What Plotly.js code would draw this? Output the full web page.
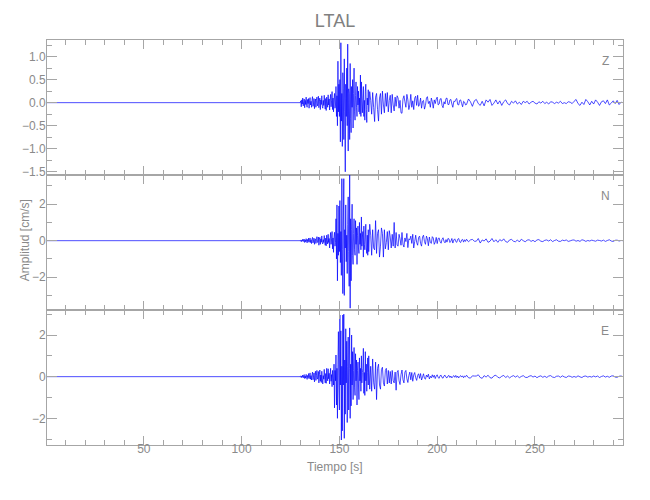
<!DOCTYPE html>
<html>
<head>
<meta charset="utf-8">
<script src="https://cdn.plot.ly/plotly-3.0.1.min.js"></script>
<style>html,body{margin:0;padding:0;background:#fff}#chart{width:650px;height:500px}</style>
</head>
<body>
<div id="chart"></div>
<script>
// ---- Data (cm/s) ----
const stationName = "LTAL";
const componentNames = ["Z", "N", "E"];
const preEventTime = [0.5];          // quiet record start
const preEventValue = [0];
const strongStart = 130, strongStep = 0.25;   // strong-motion segment sampling (s)
const midStart = 165, midStep = 0.5;          // early coda sampling (s)
const tailStart = 215, tailStep = 1;          // late coda sampling (s)
const xTickLabels = ["50", "100", "150", "200", "250"];

const zStrong = [
 0.00,0.04,-0.09,0.06, -0.03,0.10,-0.07,0.02, 0.08,-0.11,0.05,-0.04, 0.12,-0.06,-0.10,0.07,
 -0.02,0.09,-0.12,0.04, 0.11,-0.05,0.03,-0.10, 0.06,0.13,-0.08,-0.03, 0.09,-0.13,0.02,0.08,
 -0.10,0.05,0.12,-0.07, -0.02,0.14,-0.11,0.03, 0.10,-0.15,0.06,-0.04, 0.15,-0.08,-0.12,0.05,
 -0.06,0.16,-0.03,-0.14, 0.09,-0.17,0.12,0.02, -0.10,0.17,-0.05,0.08, -0.16,0.06,0.18,-0.09,
 0.04,0.24,-0.15,0.10, -0.20,0.08,0.20,-0.12, -0.05,0.35,-0.30,0.15, -0.50,0.90,-0.20,0.40,
 -0.30,0.50,-0.85,1.30, -0.40,0.20,-0.95,0.65, 0.30,-0.80,0.95,-0.20, -1.50,0.40,-0.30,0.75,
 -0.50,1.27,-1.05,0.30, 0.20,-0.80,0.85,-0.35, -0.65,0.35,-0.10,0.50, -0.55,0.20,0.75,-0.20,
 -0.38,0.15,0.45,-0.10, -0.30,0.35,-0.05,0.25, -0.20,0.10,-0.25,0.60, -0.30,0.45,0.05,-0.22,
 0.10,0.35,-0.30,0.05, -0.38,0.25,0.40,-0.15, -0.43,0.10,-0.05,0.28
];
const zMid = [
 -0.20,0.24, 0.05,-0.25, 0.22,-0.10, -0.41,0.12, 0.20,-0.15, -0.40,0.10, 0.20,-0.25, 0.25,-0.05,
 -0.22,0.20, -0.08,0.22, -0.20,0.05, 0.16,-0.22, 0.18,-0.05, -0.18,0.12, -0.08,0.15, 0.10,-0.12,
 0.05,-0.22, -0.23,0.08, 0.15,0.02, -0.10,0.18, 0.06,-0.15, -0.05,0.18, -0.10,0.04, -0.15,0.10,
 0.14,-0.06, 0.16,-0.08, -0.04,0.10, -0.12,0.03, 0.05,-0.14, -0.06,0.10, 0.13,-0.02, 0.03,-0.10,
 0.10,0.02, -0.12,0.06, -0.02,0.08, 0.12,-0.05, -0.03,0.08, 0.09,-0.06, -0.11,0.02, -0.03,0.09,
 0.10,-0.04, -0.04,0.06, 0.07,-0.03, -0.10,0.03, 0.02,0.07, 0.09,-0.04, -0.05,0.05, 0.06,-0.02,
 -0.09,0.03, 0.01,-0.05
];
const zTail = [
 -0.04,0.08,0.02,-0.08,0.04,
 0.07,-0.02,-0.06,0.03,-0.07,0.06,0.01,0.07,-0.06,-0.01,
 0.06,-0.03,0.04,-0.06,0.02,0.06,-0.02,-0.05,0.03,-0.01,
 0.04,-0.03,0.01,-0.04,0.03,0.00,0.03,-0.03,0.01,0.03,
 -0.01,-0.03,0.02,-0.01,0.03,-0.02,0.01,-0.03,0.02,0.01,
 -0.02,0.01,-0.01,0.03,-0.02,0.00,-0.02,0.02,0.01,-0.02,
 0.03,0.07,-0.02,-0.06,0.01,-0.04,0.07,0.02,-0.05,0.03,
 -0.03,0.06,0.01,-0.06,0.02,0.04,-0.02,0.06,-0.05,-0.01,
 0.04,-0.02,0.05,-0.04,0.01,0.00
];

const nStrong = [
 0.00,0.04,-0.06,0.03, -0.02,0.08,-0.05,0.06, 0.09,-0.10,0.04,-0.06, 0.11,-0.03,-0.12,0.07,
 -0.05,0.14,-0.09,0.02, 0.15,-0.10,0.05,-0.16, 0.08,0.18,-0.12,-0.02, 0.14,-0.20,0.06,0.10,
 -0.15,0.05,0.22,-0.10, -0.04,0.20,-0.25,0.08, 0.18,-0.20,0.10,-0.08, 0.26,-0.12,-0.18,0.06,
 -0.10,0.28,-0.05,-0.25, 0.14,-0.28,0.30,0.02, -0.18,0.35,-0.10,0.12, -0.40,0.10,0.45,-0.20,
 0.10,0.50,-0.45,0.15, -0.64,0.20,0.46,-0.30, -0.10,1.20,-1.00,1.96, -2.20,0.40,-0.80,1.90,
 -0.60,2.20,-1.20,0.50, -1.90,3.40,-0.50,-2.90, 0.80,3.40,-3.00,0.60, -0.40,1.96,-1.15,0.30,
 -1.80,0.90,2.40,-0.60, -2.50,3.70,-3.70,1.20, -2.20,0.60,2.00,-0.80, -1.30,0.40,1.20,-0.50,
 -0.80,1.10,-0.20,0.70, -1.30,0.30,0.80,-0.40, -0.70,1.00,-0.20,0.40, -0.50,1.30,-0.30,0.20,
 0.50,-0.90,0.80,-0.20, -0.50,0.20,0.90,-0.40, -0.70,0.30,-0.80,0.60
];
const nMid = [
 -0.60,0.90, 0.30,-0.80, 0.60,-0.40, -0.50,1.10, -0.70,0.40, 0.60,-0.90, -0.30,0.70, 0.40,-0.90,
 0.60,-0.45, -0.10,0.50, -0.50,0.55, 0.20,-0.40, 0.35,-0.30, 1.00,-0.40, 0.45,-0.25, -0.30,0.35,
 0.10,-0.25, 0.45,-0.20, -0.35,0.15, -0.05,0.40, -0.38,0.10, 0.05,0.25, -0.15,0.35, -0.40,-0.05,
 0.30,-0.10, -0.25,0.18, 0.25,-0.15, -0.30,0.20, 0.30,-0.05, -0.20,0.25, 0.10,-0.28, 0.20,-0.10,
 -0.15,0.22, 0.15,-0.20, -0.08,0.18, -0.16,0.12, 0.15,-0.06, -0.14,0.08, 0.16,-0.04, -0.12,0.06,
 -0.08,0.12, 0.10,-0.10, -0.03,0.12, -0.13,0.04, 0.10,-0.05, -0.09,0.08, 0.12,-0.06, -0.10,0.04,
 0.07,-0.08, 0.05,-0.04
];
const nTail = [
 0.08,-0.06,0.04,0.07,-0.03,
 -0.03,0.12,-0.13,0.04,-0.02,0.10,-0.09,-0.03,0.12,-0.06,
 0.05,-0.09,0.06,-0.02,0.10,-0.05,-0.09,0.04,0.07,-0.03,
 -0.06,0.04,-0.07,0.08,0.00,-0.06,0.03,0.05,-0.04,0.02,
 -0.06,0.04,0.06,-0.03,-0.05,0.02,0.04,-0.02,0.05,-0.05,
 0.01,0.05,-0.03,-0.04,0.03,0.00,0.04,-0.04,-0.01,0.03,
 0.04,-0.03,0.01,-0.04,0.05,0.02,-0.04,0.01,-0.02,0.03,
 0.00,-0.03,0.03,0.01,-0.02,0.03,-0.04,0.01,0.05,-0.02,
 -0.04,0.02,0.03,-0.02,0.01,0.00
];

const eStrong = [
 0.00,0.04,-0.05,0.03, -0.02,0.08,-0.06,0.05, 0.10,-0.09,0.03,-0.07, 0.11,-0.04,-0.13,0.06,
 -0.05,0.15,-0.10,0.03, 0.18,-0.12,0.05,-0.16, 0.10,0.22,-0.15,-0.03, 0.18,-0.25,0.06,0.26,
 -0.18,0.05,0.30,-0.12, -0.06,0.25,-0.30,0.10, 0.32,-0.22,0.08,-0.28, 0.26,-0.10,-0.35,0.05,
 -0.12,0.35,-0.06,-0.30, 0.15,-0.32,0.40,0.02, -0.20,0.38,-0.10,0.16, -0.35,0.10,0.40,-0.22,
 0.10,-0.48,0.30,-0.10, -0.40,0.60,-1.50,0.30, -0.20,1.04,-1.36,0.40, -2.00,0.60,2.16,-0.50,
 -1.60,2.96,-0.40,2.20, -3.04,0.50,-2.60,2.96, -0.40,3.00,-2.96,0.80, -1.80,2.30,-0.30,1.70,
 -2.20,0.50,1.90,-1.60, 0.40,2.34,-2.00,0.60, -1.40,2.00,-0.40,1.20, -1.10,0.30,1.40,-0.50,
 -0.90,1.10,-0.20,0.80, -1.36,0.30,0.70,-0.40, -1.10,0.90,-0.20,0.40, -0.70,1.00,-0.30,0.20,
 0.40,1.36,-0.80,0.20, -0.90,1.20,-0.20,0.60, -0.70,0.20,0.90,-0.40
];
const eMid = [
 1.00,-0.60, 0.50,-0.70, 0.85,-0.30, -0.60,0.70, -1.10,0.40, 0.60,-0.40, -0.60,0.35, 0.45,-0.30,
 -0.45,0.30, 0.40,-0.35, 0.30,-0.30, 0.25,-0.35, 0.30,-0.20, -0.30,0.22, -0.65,0.22, 0.30,-0.20,
 -0.38,0.10, 0.32,-0.15, -0.30,0.22, 0.30,-0.10, -0.28,0.05, 0.22,-0.15, 0.20,-0.22, 0.08,0.20,
 -0.05,-0.18, 0.06,0.14, -0.08,0.15, -0.16,-0.02, 0.14,-0.08, -0.12,0.08, -0.02,0.12, -0.11,0.02,
 -0.06,0.09, -0.03,0.07, -0.09,0.03, 0.09,-0.04, -0.08,0.05, 0.07,-0.05, -0.07,0.04, 0.07,-0.03,
 -0.06,0.03, 0.06,-0.04, 0.03,-0.06, 0.01,0.05, -0.03,0.06, -0.04,0.03, -0.06,0.01, 0.05,-0.02,
 0.04,-0.05, 0.03,-0.01
];
const eTail = [
 0.07,-0.05,-0.07,0.04,0.03,
 0.03,0.09,-0.04,-0.08,0.05,-0.02,0.07,-0.05,-0.07,0.04,
 0.07,-0.03,-0.06,0.02,0.06,-0.04,0.03,-0.06,0.01,0.05,
 -0.02,0.04,-0.05,0.01,0.05,-0.03,-0.04,0.02,0.05,-0.02,
 0.03,-0.05,0.01,0.04,-0.03,0.02,-0.04,0.03,0.05,-0.02,
 -0.04,0.02,0.03,-0.03,0.04,-0.01,-0.04,0.03,0.02,-0.03,
 0.01,-0.03,0.04,-0.01,-0.04,0.02,0.03,-0.02,0.01,-0.02,
 0.03,-0.01,0.03,-0.04,0.01,0.04,-0.02,0.02,-0.03,0.03,
 0.04,-0.02,-0.03,0.02,0.03,0.00
];

// ---- Build series ----
function buildTrace(strong, mid, tail) {
  const x = preEventTime.slice(), y = preEventValue.slice();
  strong.forEach((v, i) => { x.push(strongStart + i * strongStep); y.push(v); });
  mid.forEach((v, i) => { x.push(midStart + i * midStep); y.push(v); });
  tail.forEach((v, i) => { x.push(tailStart + i * tailStep); y.push(v); });
  return {x, y};
}
const series = [
  buildTrace(zStrong, zMid, zTail),
  buildTrace(nStrong, nMid, nTail),
  buildTrace(eStrong, eMid, eTail)
];

const FONT = "'Liberation Sans', Arial, sans-serif";
const GRAY = "#8a8a8a", AX = "#a6a6a6";

const traces = series.map((s, k) => ({
  type: "scatter", mode: "lines",
  x: s.x, y: s.y,
  xaxis: k === 0 ? "x" : "x" + (k + 1),
  yaxis: k === 0 ? "y" : "y" + (k + 1),
  line: {color: "#0000ff", width: 0.7, simplify: false},
  hoverinfo: "skip", showlegend: false
}));

function xAxis(k, showLabels) {
  return {
    domain: [0, 1], anchor: k === 0 ? "y" : "y" + (k + 1),
    range: [0.5, 295], tickmode: "array", tickvals: [50, 100, 150, 200, 250],
    ticktext: xTickLabels, showticklabels: showLabels,
    ticks: "inside", ticklen: 9, tickwidth: 1, tickcolor: AX,
    minor: {ticks: "inside", tickmode: "linear", tick0: 0, dtick: 10, ticklen: 5, tickcolor: AX, showgrid: false},
    showline: true, linecolor: AX, linewidth: 1, mirror: "ticks",
    showgrid: false, zeroline: false, ticklabelstandoff: -7,
    tickfont: {family: FONT, size: 12, color: GRAY}
  };
}
function yAxis(domain, range, dtick, minorDtick, fmt) {
  return {
    domain: domain, range: range, tickmode: "linear", tick0: 0, dtick: dtick,
    tickformat: fmt,
    ticks: "inside", ticklen: 10, tickwidth: 1, tickcolor: AX,
    minor: {ticks: "inside", tickmode: "linear", tick0: 0, dtick: minorDtick, ticklen: 5, tickcolor: AX, showgrid: false},
    showline: true, linecolor: AX, linewidth: 1, mirror: "ticks",
    showgrid: false, zeroline: false, ticklabelstandoff: -2,
    tickfont: {family: FONT, size: 12, color: GRAY}
  };
}

const layout = {
  width: 650, height: 500,
  margin: {l: 47, r: 27, t: 40, b: 55},
  paper_bgcolor: "#ffffff", plot_bgcolor: "#ffffff",
  title: {text: stationName, x: 0.5, xref: "paper", y: 0.958, yanchor: "middle",
          font: {family: FONT, size: 18, color: "#808080"}},
  xaxis: xAxis(0, false), xaxis2: xAxis(1, false), xaxis3: xAxis(2, true),
  yaxis: yAxis([2/3, 1], [-1.57, 1.36], 0.5, 0.25, ".1f"),
  yaxis2: yAxis([1/3, 2/3], [-3.8, 3.6], 2, 1, "d"),
  yaxis3: yAxis([0, 1/3], [-3.28, 3.2], 2, 1, "d"),
  annotations: [
    {text: componentNames[0], xref: "paper", yref: "paper", x: 0.969, y: 0.947, showarrow: false,
     xanchor: "center", yanchor: "middle", font: {family: FONT, size: 12, color: GRAY}},
    {text: componentNames[1], xref: "paper", yref: "paper", x: 0.969, y: 0.615, showarrow: false,
     xanchor: "center", yanchor: "middle", font: {family: FONT, size: 12, color: GRAY}},
    {text: componentNames[2], xref: "paper", yref: "paper", x: 0.969, y: 0.281, showarrow: false,
     xanchor: "center", yanchor: "middle", font: {family: FONT, size: 12, color: GRAY}},
    {text: "Amplitud [cm/s]", xref: "paper", yref: "paper", x: -0.038, y: 0.506, showarrow: false,
     textangle: -90, xanchor: "center", yanchor: "middle", font: {family: FONT, size: 12, color: GRAY}},
    {text: "Tiempo [s]", xref: "paper", yref: "paper", x: 0.5, y: -0.054, showarrow: false,
     xanchor: "center", yanchor: "middle", font: {family: FONT, size: 12, color: GRAY}}
  ]
};

Plotly.newPlot("chart", traces, layout, {staticPlot: true, displayModeBar: false});
</script>
</body>
</html>
